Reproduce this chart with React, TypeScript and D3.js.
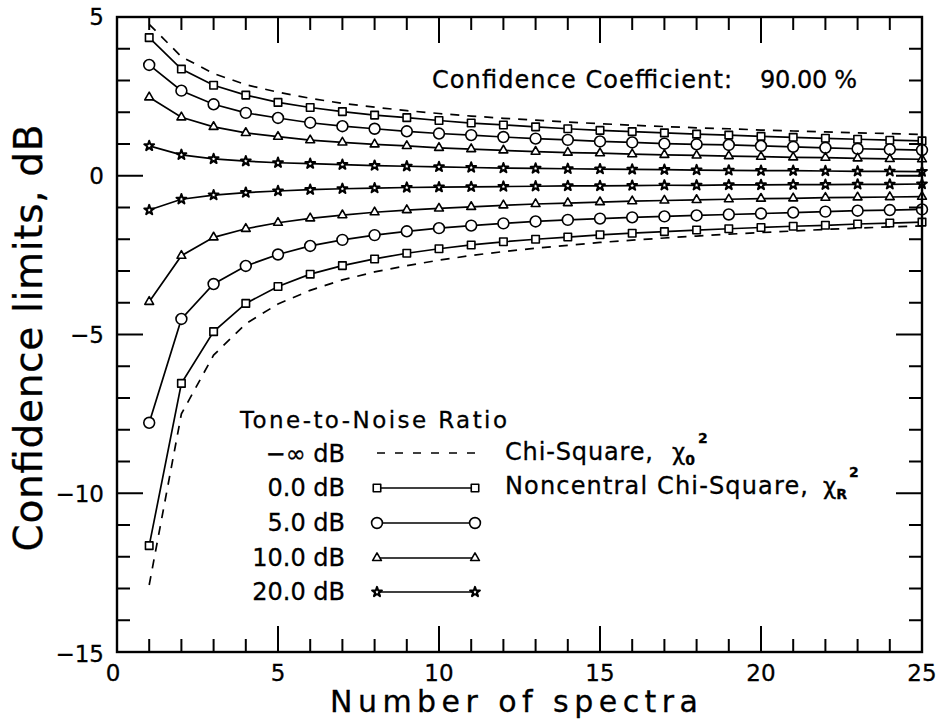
import React from 'react';
import * as d3 from 'd3';

// ---------------- data ----------------
const spectra = [1, 2, 3, 4, 5, 6, 7, 8, 9, 10, 11, 12, 13, 14, 15, 16, 17, 18, 19, 20, 21, 22, 23, 24, 25];

const chiUpper = [4.77, 3.75, 3.22, 2.87, 2.63, 2.44, 2.28, 2.16, 2.05, 1.96, 1.88, 1.81, 1.75, 1.69, 1.64, 1.59, 1.55, 1.51, 1.48, 1.44, 1.41, 1.38, 1.35, 1.33, 1.30];
const chiLower = [-12.89, -7.5, -5.65, -4.66, -4.04, -3.61, -3.28, -3.03, -2.83, -2.66, -2.51, -2.39, -2.28, -2.19, -2.1, -2.03, -1.96, -1.9, -1.84, -1.79, -1.74, -1.69, -1.65, -1.61, -1.58];

const tnr0Upper = [4.35, 3.36, 2.85, 2.54, 2.31, 2.15, 2.02, 1.91, 1.83, 1.74, 1.66, 1.6, 1.54, 1.48, 1.43, 1.39, 1.35, 1.31, 1.28, 1.24, 1.21, 1.18, 1.15, 1.12, 1.1];
const tnr0Lower = [-11.65, -6.54, -4.91, -4.02, -3.49, -3.1, -2.83, -2.62, -2.44, -2.3, -2.18, -2.08, -2.0, -1.93, -1.86, -1.81, -1.76, -1.71, -1.67, -1.63, -1.59, -1.56, -1.52, -1.49, -1.46];
const tnr5Upper = [3.49, 2.68, 2.25, 1.98, 1.82, 1.67, 1.56, 1.48, 1.4, 1.33, 1.28, 1.22, 1.17, 1.13, 1.08, 1.05, 1.01, 0.99, 0.97, 0.94, 0.91, 0.88, 0.85, 0.83, 0.81];
const tnr5Lower = [-7.78, -4.51, -3.41, -2.84, -2.48, -2.21, -2.02, -1.87, -1.75, -1.65, -1.57, -1.5, -1.44, -1.39, -1.35, -1.31, -1.28, -1.25, -1.22, -1.19, -1.16, -1.13, -1.1, -1.08, -1.06];
const tnr10Upper = [2.47, 1.84, 1.54, 1.35, 1.23, 1.12, 1.05, 0.99, 0.94, 0.88, 0.84, 0.8, 0.76, 0.73, 0.71, 0.68, 0.66, 0.64, 0.62, 0.6, 0.58, 0.57, 0.55, 0.53, 0.52];
const tnr10Lower = [-3.97, -2.52, -1.94, -1.67, -1.48, -1.34, -1.24, -1.15, -1.08, -1.03, -0.98, -0.93, -0.89, -0.86, -0.83, -0.8, -0.78, -0.76, -0.74, -0.72, -0.71, -0.69, -0.68, -0.67, -0.66];
const tnr20Upper = [0.94, 0.66, 0.53, 0.46, 0.41, 0.38, 0.35, 0.32, 0.3, 0.28, 0.26, 0.24, 0.23, 0.22, 0.21, 0.2, 0.19, 0.18, 0.17, 0.16, 0.16, 0.15, 0.14, 0.14, 0.13];
const tnr20Lower = [-1.08, -0.74, -0.61, -0.53, -0.48, -0.44, -0.41, -0.39, -0.37, -0.36, -0.35, -0.34, -0.33, -0.32, -0.32, -0.31, -0.3, -0.3, -0.29, -0.29, -0.28, -0.28, -0.27, -0.27, -0.26];

const legendLabels = ['\u2212\u221e dB', '0.0 dB', '5.0 dB', '10.0 dB', '20.0 dB'];
const xTickLabels = ['0', '5', '10', '15', '20', '25'];
const yTickLabels = ['\u221215', '\u221210', '\u22125', '0', '5'];
const yTickValues = [-15, -10, -5, 0, 5];
const xTickValues = [0, 5, 10, 15, 20, 25];

// ---------------- layout ----------------
const W = 942;
const H = 723;
const L = 117, R = 922, T = 17, B = 652;
const FONT = '"DejaVu Sans", Verdana, sans-serif';

const x = d3.scaleLinear().domain([0, 25]).range([L, R]);
const y = d3.scaleLinear().domain([-15, 5]).range([B, T]);

type Sym = 'square' | 'circle' | 'triangle' | 'star';
const symType: Record<Sym, d3.SymbolType> = {
  square: d3.symbolSquare,
  circle: d3.symbolCircle,
  triangle: d3.symbolTriangle,
  star: d3.symbolStar,
};
const symSize: Record<Sym, number> = { square: 56, circle: 92, triangle: 34, star: 30 };

const noncentral: { sym: Sym; upper: number[]; lower: number[] }[] = [
  { sym: 'square', upper: tnr0Upper, lower: tnr0Lower },
  { sym: 'circle', upper: tnr5Upper, lower: tnr5Lower },
  { sym: 'triangle', upper: tnr10Upper, lower: tnr10Lower },
  { sym: 'star', upper: tnr20Upper, lower: tnr20Lower },
];

const line = d3
  .line<[number, number]>()
  .x((d) => x(d[0]))
  .y((d) => y(d[1]));

function Marker({ sym, cx, cy }: { sym: Sym; cx: number; cy: number }) {
  const p = d3.symbol().type(symType[sym]).size(symSize[sym])() as string;
  return (
    <path
      d={p}
      transform={`translate(${cx},${cy})`}
      fill="#fff"
      stroke="#000"
      strokeWidth={sym === 'star' ? 2 : 1.6}
      strokeLinejoin="round"
    />
  );
}

export default function App() {
  const xMinor = x.ticks(25);
  const yMinor = y.ticks(20);
  const major = 26;
  const minor = 13;

  const legendBase = [462, 496, 531, 566, 600];
  const legSyms: Sym[] = ['square', 'circle', 'triangle', 'star'];
  const lx1 = 377, lx2 = 475;
  const txt = { fill: '#000', stroke: '#000', strokeWidth: 0.3 };

  return (
    <svg
      width={W}
      height={H}
      style={{ position: 'absolute', left: 0, top: 0, display: 'block', background: '#fff' }}
      fontFamily={FONT}
    >
      <rect x={0} y={0} width={W} height={H} fill="#fff" />

      {/* chi-square dashed limits */}
      {[chiUpper, chiLower].map((s, i) => (
        <path
          key={`chi${i}`}
          d={line(spectra.map((n, k) => [n, s[k]] as [number, number])) as string}
          fill="none"
          stroke="#000"
          strokeWidth={1.7}
          strokeDasharray="9 8"
        />
      ))}

      {/* noncentral chi-square limits */}
      {noncentral.map((sr, i) =>
        [sr.upper, sr.lower].map((s, j) => (
          <g key={`nc${i}-${j}`}>
            <path
              d={line(spectra.map((n, k) => [n, s[k]] as [number, number])) as string}
              fill="none"
              stroke="#000"
              strokeWidth={1.7}
            />
            {spectra.map((n, k) => (
              <Marker key={k} sym={sr.sym} cx={x(n)} cy={y(s[k])} />
            ))}
          </g>
        ))
      )}

      {/* frame */}
      <rect x={L} y={T} width={R - L} height={B - T} fill="none" stroke="#000" strokeWidth={2.4} />

      {/* ticks */}
      {xMinor.map((v) => {
        const len = v % 5 === 0 ? major : minor;
        if (v === 0 || v === 25) return null;
        return (
          <g key={`xt${v}`} stroke="#000" strokeWidth={2}>
            <line x1={x(v)} x2={x(v)} y1={B} y2={B - len} />
            <line x1={x(v)} x2={x(v)} y1={T} y2={T + len} />
          </g>
        );
      })}
      {yMinor.map((v) => {
        const len = v % 5 === 0 ? major : minor;
        if (v === -15 || v === 5) return null;
        return (
          <g key={`yt${v}`} stroke="#000" strokeWidth={2}>
            <line x1={L} x2={L + len} y1={y(v)} y2={y(v)} />
            <line x1={R} x2={R - len} y1={y(v)} y2={y(v)} />
          </g>
        );
      })}

      {/* tick labels */}
      {xTickValues.map((v, i) => (
        <text key={`xl${v}`} x={x(v) - (v === 0 ? 4 : 0)} y={681} fontSize={23} textAnchor="middle" {...txt}>
          {xTickLabels[i]}
        </text>
      ))}
      {yTickValues.map((v, i) => (
        <text
          key={`yl${v}`}
          x={104}
          y={y(v) + (v === -15 ? 2 : 0)}
          dy="0.36em"
          fontSize={23}
          textAnchor="end"
          {...txt}
        >
          {yTickLabels[i]}
        </text>
      ))}

      {/* axis titles */}
      <text x={514} y={712} fontSize={30} textAnchor="middle" textLength={368} lengthAdjust="spacing" {...txt}>
        Number of spectra
      </text>
      <text
        transform="translate(42,338) rotate(-90)"
        fontSize={39}
        textAnchor="middle"
        textLength={427}
        lengthAdjust="spacing"
        {...txt}
      >
        Confidence limits, dB
      </text>

      {/* annotation */}
      <text x={432} y={88} fontSize={24} textLength={300} lengthAdjust="spacing" {...txt}>
        Confidence Coefficient:
      </text>
      <text x={760} y={88} fontSize={24} textLength={97} lengthAdjust="spacing" {...txt}>
        90.00 %
      </text>

      {/* legend */}
      <text x={240} y={428} fontSize={23} textLength={267} lengthAdjust="spacing" {...txt}>
        Tone-to-Noise Ratio
      </text>
      {legendLabels.map((lab, i) => (
        <text key={`lg${i}`} x={345} y={legendBase[i]} fontSize={24} textAnchor="end" {...txt}>
          {lab}
        </text>
      ))}
      <line
        x1={lx1}
        x2={lx2}
        y1={legendBase[0] - 9}
        y2={legendBase[0] - 9}
        stroke="#000"
        strokeWidth={1.6}
        strokeDasharray="8 10"
      />
      {legSyms.map((s, i) => {
        const ly = legendBase[i + 1] - 8;
        return (
          <g key={`ls${i}`}>
            <line x1={lx1} x2={lx2} y1={ly} y2={ly} stroke="#000" strokeWidth={1.7} />
            <Marker sym={s} cx={lx1} cy={ly} />
            <Marker sym={s} cx={lx2} cy={ly} />
          </g>
        );
      })}

      <text x={505} y={460} fontSize={24} textLength={148} lengthAdjust="spacing" {...txt}>
        Chi-Square,
      </text>
      <text x={672} y={460} fontSize={23} {...txt}>
        {'\u03c7'}
        <tspan fontSize={14} dy={5} fontWeight="bold">0</tspan>
        <tspan fontSize={14} dy={-22} dx={3} fontWeight="bold">2</tspan>
      </text>
      <text x={505} y={494} fontSize={24} textLength={303} lengthAdjust="spacing" {...txt}>
        Noncentral Chi-Square,
      </text>
      <text x={823} y={494} fontSize={23} {...txt}>
        {'\u03c7'}
        <tspan fontSize={14} dy={5} fontWeight="bold">R</tspan>
        <tspan fontSize={14} dy={-22} dx={2} fontWeight="bold">2</tspan>
      </text>
    </svg>
  );
}
